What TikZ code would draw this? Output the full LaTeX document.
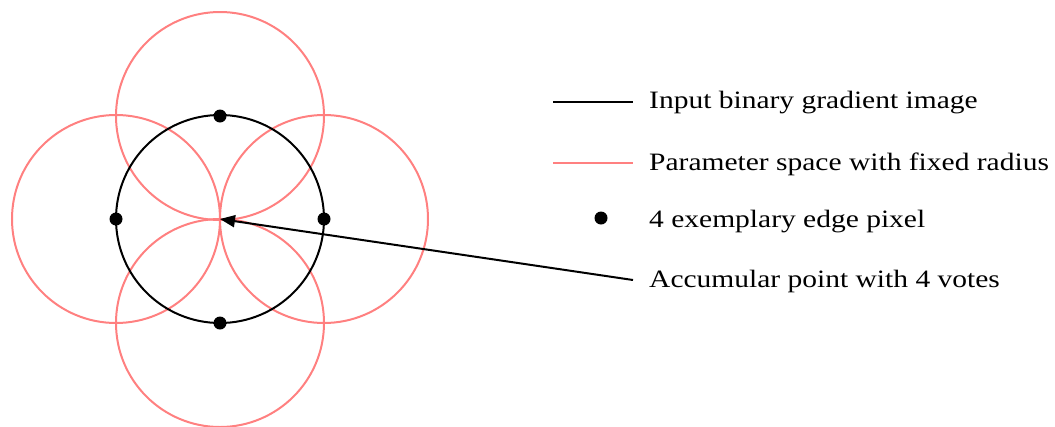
\documentclass[tikz,border=0pt]{standalone}
\usepackage{fontspec}
\setmainfont[FakeStretch=1.18]{Liberation Serif}
\usetikzlibrary{arrows.meta}
\begin{document}
\begin{tikzpicture}[x=1pt,y=-1pt,
  blk/.style={draw=black,line width=2pt},
  param/.style={draw=red!50,line width=2pt},
  pix/.style={circle,fill=black,inner sep=0pt,minimum size=13pt},
  lbl/.style={anchor=base west,inner sep=0pt,font=\fontsize{25}{29}\selectfont}]
\useasboundingbox (0,0) rectangle (1055,426);
\def\R{104}
\coordinate (c) at (220,219);
\coordinate (pt) at (220,116);
\coordinate (pl) at (116,219);
\coordinate (pr) at (324,219);
\coordinate (pb) at (220,323);
\foreach \p in {pt,pl,pr,pb} \draw[param] (\p) circle (\R);
\draw[blk] (c) circle (\R);
\foreach \p in {pt,pl,pr,pb} \node[pix] at (\p) {};
% legend
\coordinate (l1a) at (553,102); \coordinate (l1b) at (633,102);
\draw[blk] (l1a) -- (l1b);
\node[lbl] (t1) at (649,108) {Input binary gradient image};
\coordinate (l2a) at (553,163); \coordinate (l2b) at (633,163);
\draw[param] (l2a) -- (l2b);
\node[lbl] (t2) at (649,170) {Parameter space with fixed radius};
\node[pix] (ld) at (601,218) {};
\node[lbl] (t3) at (649,227) {4 exemplary edge pixel};
\coordinate (as) at (633,280);
\node[lbl] (t4) at (649,287) {Accumular point with 4 votes};
\draw[line width=2pt,-{Triangle[length=15pt,width=12pt]}] (as) -- (c);
\end{tikzpicture}
\end{document}
